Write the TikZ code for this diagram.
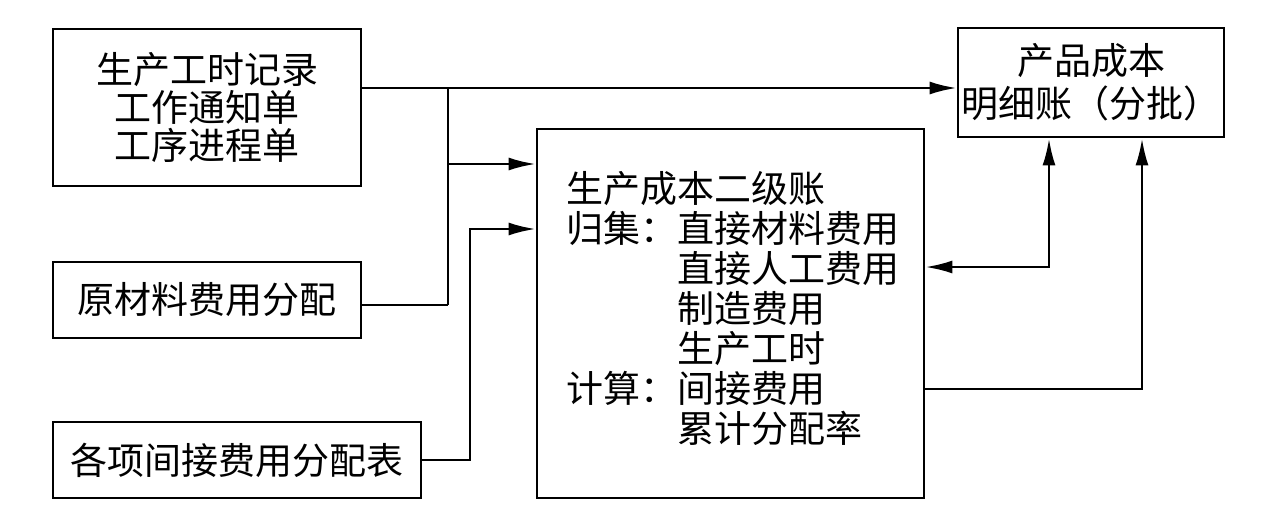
\documentclass[tikz,border=0pt]{standalone}
\usepackage{fontspec}
\newfontfamily\cjk{Noto Sans CJK SC}
\usetikzlibrary{arrows.meta,calc}
\tikzset{
  box/.style={draw, line width=2.8pt, inner sep=0pt, align=center, font=\cjk\fontsize{37}{40}\selectfont},
  conn/.style={line width=2.6pt},
  arr/.style={conn, -{Latex[length=27pt,width=13pt]}},
  darr/.style={conn, {Latex[length=27pt,width=13pt]}-{Latex[length=27pt,width=13pt]}},
  txt/.style={inner sep=0pt, align=left, font=\cjk\fontsize{37}{40}\selectfont}
}
\begin{document}
\begin{tikzpicture}[x=1pt,y=-1pt]
\useasboundingbox (0,0) rectangle (1263,520);
\node[box, minimum width=308pt, minimum height=157pt] (A) at (207,107.5) {生产工时记录\\[-2pt]工作通知单\\[-2pt]工序进程单};
\node[box, minimum width=308pt, minimum height=76pt] (B) at (207,300) {原材料费用分配};
\node[box, minimum width=368pt, minimum height=76pt] (C) at (237,460) {各项间接费用分配表};
\node[box, minimum width=387pt, minimum height=369pt] (D) at (730.5,313.5) {};
\node[box, minimum width=266pt, minimum height=109pt] (E) at (1091,82.5) {产品成本\\[3pt]明细账（分批）};
\node[txt, anchor=west] (Dt) at (566,308) {生产成本二级账\\
归集：直接材料费用\\
\phantom{归集：}直接人工费用\\
\phantom{归集：}制造费用\\
\phantom{归集：}生产工时\\
计算：间接费用\\
\phantom{归集：}累计分配率};
\coordinate (j1) at (448,88);
\coordinate (j2) at (448,305);
\coordinate (j3) at (448,164);
\coordinate (k1) at (470,229);
\coordinate (m1) at (1049,267);
\coordinate (m2) at (1142,389);
\draw[arr] (A.east |- j1) -- (E.west |- j1);
\draw[conn, line width=1.8pt] (j1) -- (j2);
\draw[conn] (B.east |- j2) -- (j2);
\draw[arr] (j3) -- (D.west |- j3);
\draw[arr] (C.east) -| (k1) -- (D.west |- k1);
\draw[darr] (D.east |- m1) -| (E.south -| m1);
\draw[arr] (D.east |- m2) -| (E.south -| m2);
\end{tikzpicture}
\end{document}
